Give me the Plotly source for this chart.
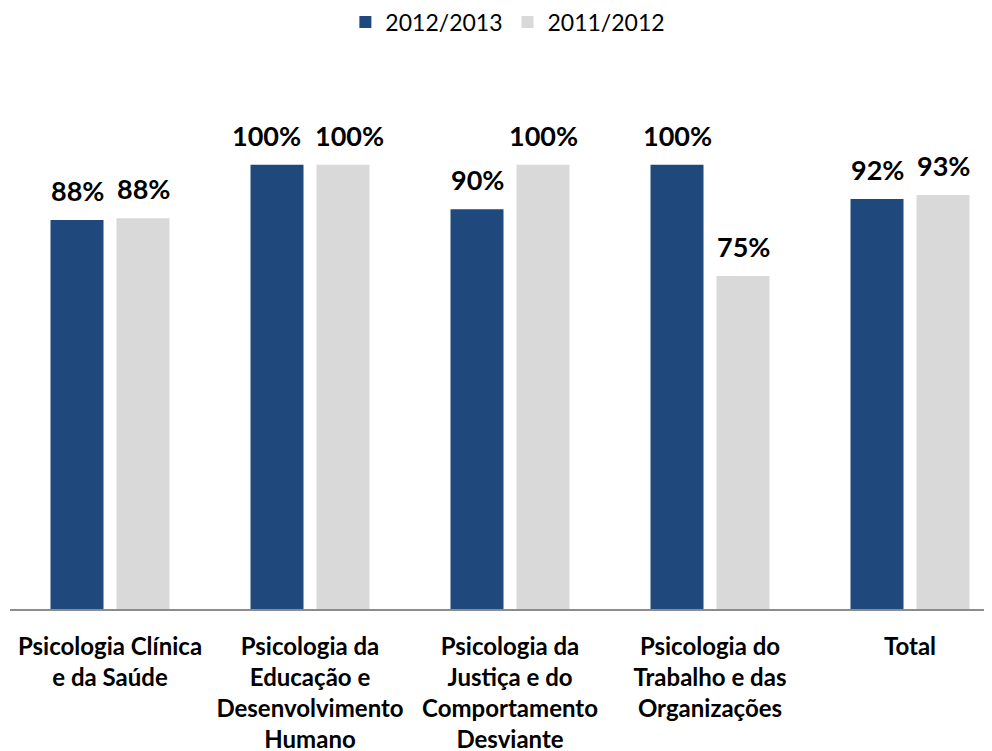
import plotly.graph_objects as go

categories = [
    "Psicologia Clínica<br>e da Saúde",
    "Psicologia da<br>Educação e<br>Desenvolvimento<br>Humano",
    "Psicologia da<br>Justiça e do<br>Comportamento<br>Desviante",
    "Psicologia do<br>Trabalho e das<br>Organizações",
    "Total",
]
series_names = ["2012/2013", "2011/2012"]
values_2012_2013 = [0.876, 1.00, 0.90, 1.00, 0.923]
values_2011_2012 = [0.880, 1.00, 1.00, 0.75, 0.932]
colors = ["#1F497D", "#D9D9D9"]

FONT = "Lato, 'Open Sans', sans-serif"
bargap = 0.34
bargroupgap = 0.197

x_idx = list(range(len(categories)))
fig = go.Figure()
for name, vals, col in zip(series_names, [values_2012_2013, values_2011_2012], colors):
    fig.add_trace(go.Bar(x=x_idx, y=vals, name=name, marker=dict(color=col, line=dict(width=0))))

slot = (1 - bargap) / 2
offsets = [-slot / 2, slot / 2]
annotations = []
for s, (off, vals) in enumerate(zip(offsets, [values_2012_2013, values_2011_2012])):
    for i, v in enumerate(vals):
        # push apart labels of neighbouring bars that are both at full height (wide labels)
        both_full = values_2012_2013[i] >= 0.995 and values_2011_2012[i] >= 0.995
        nudge = (-11 if s == 0 else 6) if both_full else 0
        annotations.append(dict(
            x=i + off, y=v, xref="x", yref="y", text=f"{round(v*100)}%",
            showarrow=False, yanchor="bottom", yshift=11, xshift=nudge,
            font=dict(family=FONT, size=27, color="#000000", weight="bold"),
        ))

fig.update_layout(
    width=984, height=743,
    margin=dict(l=2, r=0, t=68, b=142, autoexpand=False),
    paper_bgcolor="white", plot_bgcolor="white",
    barmode="group", bargap=bargap, bargroupgap=bargroupgap,
    font=dict(family=FONT, color="#000000"),
    legend=dict(orientation="h", x=0.507, xanchor="center", yref="container", y=0.981, yanchor="middle",
                font=dict(family=FONT, size=23), traceorder="normal"),
    annotations=annotations,
    showlegend=True,
)
fig.update_xaxes(
    tickmode="array", tickvals=x_idx, ticktext=[f"<b>{c}</b>" for c in categories],
    range=[-0.5, 4.41],
    showline=True, linecolor="#8C8C8C", linewidth=2, ticks="",
    tickfont=dict(family=FONT, size=24, color="#000000"),
    ticklabelstandoff=15, showgrid=False, zeroline=False, automargin=False,
)
fig.update_yaxes(range=[0, 1.2], visible=False, showgrid=False, zeroline=False)

fig.write_html("out.html")
